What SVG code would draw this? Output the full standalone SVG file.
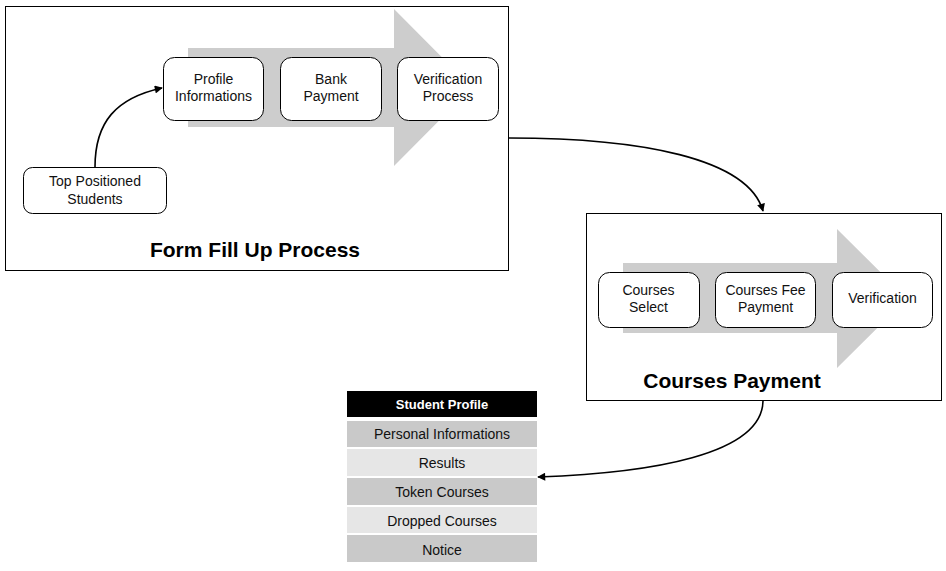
<svg xmlns="http://www.w3.org/2000/svg" width="946" height="571" viewBox="0 0 946 571">
<defs>
<style>
.frame{fill:#fff;stroke:#000;stroke-width:1}
.bigarrow{fill:#cdcdcd}
.node{fill:#fff;stroke:#000;stroke-width:1}
.t{font-family:"Liberation Sans",Arial,sans-serif;font-size:14px;fill:#111;text-anchor:middle}
.title{font-family:"Liberation Sans",Arial,sans-serif;font-size:21px;font-weight:bold;fill:#000;text-anchor:middle}
.hdr{font-family:"Liberation Sans",Arial,sans-serif;font-size:13px;font-weight:bold;fill:#fff;text-anchor:middle}
.dark{fill:#c9c9c9}
.light{fill:#e6e6e6}
.conn{fill:none;stroke:#000;stroke-width:1.6}
</style>
<marker id="ah" viewBox="0 0 10 10" refX="9" refY="5" markerWidth="9" markerHeight="8" orient="auto" markerUnits="userSpaceOnUse">
<path d="M0,0 L10,5 L0,10 z" fill="#000"/>
</marker>
</defs>
<rect width="946" height="571" fill="#fff"/>

<g id="form-fill-up-process">
<rect class="frame" x="5.5" y="6.5" width="503" height="264"/>
<path class="bigarrow" d="M188,48 H394 V9 L472,87.5 L394,166 V127 H188 Z"/>
<text class="title" x="255" y="257">Form Fill Up Process</text>
</g>

<g id="profile-informations">
<rect class="node" x="163.5" y="57.5" width="100" height="63" rx="11"/>
<text class="t" x="213.5" y="84">Profile</text>
<text class="t" x="213.5" y="101">Informations</text>
</g>
<g id="bank-payment">
<rect class="node" x="280.5" y="57.5" width="101" height="63" rx="11"/>
<text class="t" x="331" y="84">Bank</text>
<text class="t" x="331" y="101">Payment</text>
</g>
<g id="verification-process">
<rect class="node" x="397.5" y="57.5" width="101" height="63" rx="11"/>
<text class="t" x="448" y="84">Verification</text>
<text class="t" x="448" y="101">Process</text>
</g>
<g id="top-positioned-students">
<rect class="node" x="23.5" y="167.5" width="143" height="46" rx="9"/>
<text class="t" x="95" y="186">Top Positioned</text>
<text class="t" x="95" y="204">Students</text>
</g>

<g id="courses-payment">
<rect class="frame" x="586.5" y="213.5" width="355" height="187"/>
<path class="bigarrow" d="M623,263 H837 V229 L907,298.5 L837,368 V333 H623 Z"/>
<text class="title" x="732" y="388">Courses Payment</text>
</g>
<g id="courses-select">
<rect class="node" x="598.5" y="272.5" width="101" height="55" rx="11"/>
<text class="t" x="648.5" y="295">Courses</text>
<text class="t" x="648.5" y="312">Select</text>
</g>
<g id="courses-fee-payment">
<rect class="node" x="715.5" y="272.5" width="100" height="55" rx="11"/>
<text class="t" x="765.5" y="295">Courses Fee</text>
<text class="t" x="765.5" y="312">Payment</text>
</g>
<g id="verification">
<rect class="node" x="832.5" y="272.5" width="100" height="55" rx="11"/>
<text class="t" x="882.5" y="303">Verification</text>
</g>

<g id="student-profile">
<rect x="347" y="391" width="190" height="26" fill="#000"/>
<text class="hdr" x="442" y="409">Student Profile</text>
<rect class="dark" x="347" y="421" width="190" height="26"/>
<text class="t" x="442" y="439">Personal Informations</text>
<rect class="light" x="347" y="449" width="190" height="27"/>
<text class="t" x="442" y="468">Results</text>
<rect class="dark" x="347" y="478" width="190" height="27"/>
<text class="t" x="442" y="497">Token Courses</text>
<rect class="light" x="347" y="507" width="190" height="26"/>
<text class="t" x="442" y="526">Dropped Courses</text>
<rect class="dark" x="347" y="535" width="190" height="27"/>
<text class="t" x="442" y="555">Notice</text>
</g>

<g id="connectors">
<path class="conn" d="M95,167 C95,122 116,98 162,88" marker-end="url(#ah)"/>
<path class="conn" d="M509,138 C640,138 748,158 763,211" marker-end="url(#ah)"/>
<path class="conn" d="M763,401 C762,455 650,473 538,477" marker-end="url(#ah)"/>
</g>
</svg>
